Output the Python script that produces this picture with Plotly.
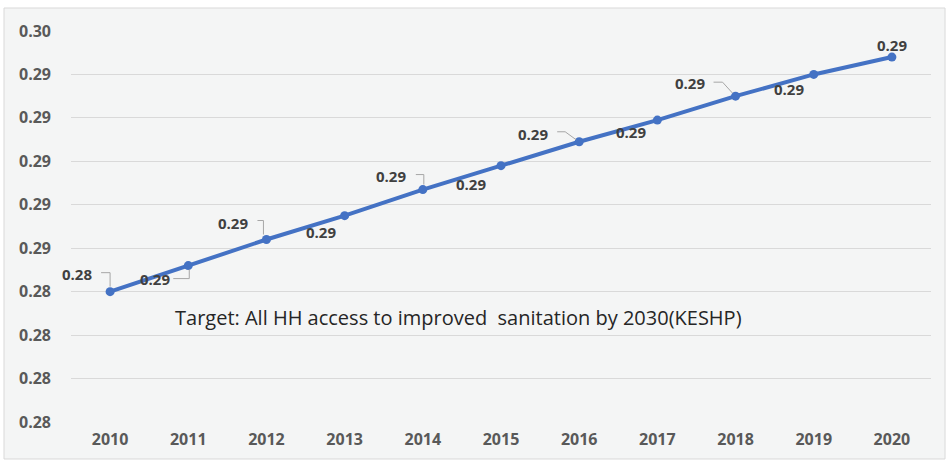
import plotly.graph_objects as go

# Household access to improved sanitation, 2010-2020
years = ["2010", "2011", "2012", "2013", "2014", "2015",
         "2016", "2017", "2018", "2019", "2020"]
access = [0.2840, 0.2852, 0.2864, 0.2875, 0.2887, 0.2898,
          0.2909, 0.2919, 0.2930, 0.2940, 0.2948]
y_ticks = [0.278, 0.280, 0.282, 0.284, 0.286, 0.288,
           0.290, 0.292, 0.294, 0.296]
note = "Target: All HH access to improved  sanitation by 2030(KESHP)"

# label offsets in pixels (x right, y up) and optional leader-line paths
label_shift = [(-33, 18), (-33, -13), (-33, 17), (-24, -16), (-32, 14), (-30, -18),
               (-46, 8), (-26, -12), (-46, 13), (-25, -15), (0, 12)]
leaders = {0: "M-9,19 L0,19 L0,5",
           1: "M-15,-13 L1,-13 L1,-4",
           2: "M-9,19 L-3,19 L-3,5",
           4: "M-7,15 L1,15 L1,5",
           6: "M-22,10 L-14,10 L-3,2",
           8: "M-22,14 L-13,14 L-3,3"}

LINE_BLUE = "#4472c4"
FONT = "Open Sans"

xs = list(range(len(years)))

fig = go.Figure()
fig.add_trace(go.Scatter(
    x=xs, y=access, mode="lines+markers",
    line=dict(color=LINE_BLUE, width=4),
    marker=dict(color=LINE_BLUE, size=9),
    hoverinfo="skip", showlegend=False,
))

annotations = []
for i, v in enumerate(access):
    dx, dy = label_shift[i]
    annotations.append(dict(
        x=xs[i], y=v, xref="x", yref="y", text=f"{v:.2f}", showarrow=False,
        xshift=dx, yshift=dy,
        font=dict(family=FONT, size=15, color="#404040", weight="bold"),
    ))
annotations.append(dict(
    x=0.451, y=0.266, xref="paper", yref="paper", text=note, showarrow=False,
    xanchor="center", yanchor="middle",
    font=dict(family=FONT, size=20, color="#262626"),
))

shapes = [dict(
    type="rect", xref="paper", yref="paper",
    x0=-0.0779, x1=1.0163, y0=-0.0946, y1=1.0588,
    fillcolor="#f4f5f5", line=dict(color="#d9d9d9", width=1), layer="below",
)]
for i, path in leaders.items():
    shapes.append(dict(
        type="path", xref="x", yref="y", xsizemode="pixel", ysizemode="pixel",
        xanchor=xs[i], yanchor=access[i], path=path,
        line=dict(color="#a6a6a6", width=1),
    ))

fig.update_layout(
    width=948, height=463,
    margin=dict(l=71, r=17, t=31, b=41),
    paper_bgcolor="white", plot_bgcolor="rgba(0,0,0,0)",
    annotations=annotations, shapes=shapes,
    xaxis=dict(
        range=[-0.5, len(years) - 0.5], tickvals=xs, ticktext=years,
        showgrid=False, zeroline=False, showline=False, ticks="",
        tickfont=dict(family=FONT, size=16, color="#595959", weight="bold"),
        ticklabelstandoff=6,
    ),
    yaxis=dict(
        range=[y_ticks[0], y_ticks[-1]], tickvals=y_ticks, tickformat=".2f",
        showgrid=True, gridcolor="#d9d9d9", gridwidth=1, zeroline=False,
        showline=False, ticks="",
        tickfont=dict(family=FONT, size=16, color="#595959", weight="bold"),
        ticklabelstandoff=19,
    ),
)

fig.write_html("out.html")
